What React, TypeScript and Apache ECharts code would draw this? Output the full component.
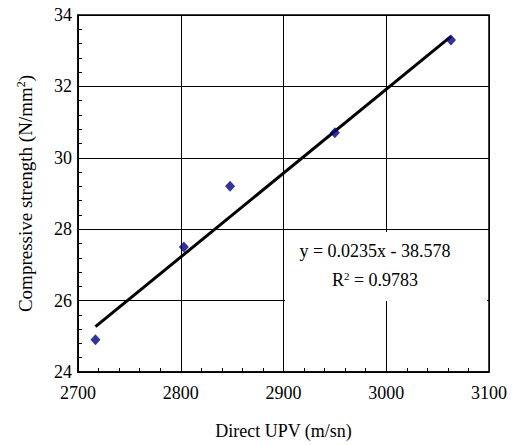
import React, { useEffect, useRef } from "react";
import * as echarts from "echarts";

const upv = [2717, 2803, 2848, 2950, 3063];
const strength = [24.9, 27.5, 29.2, 30.7, 33.3];
const trendX = [2717, 3063];
const trendY = [25.27, 33.4];
const eqText = "y = 0.0235x - 38.578";
const r2Value = "0.9783";

export default function App() {
  const ref = useRef<HTMLDivElement>(null);
  useEffect(() => {
    const chart = echarts.init(ref.current!, null, { renderer: "svg" });
    const font = "'Liberation Serif', 'Times New Roman', serif";
    chart.setOption({
      animation: false,
      textStyle: { fontFamily: font },
      grid: { left: 78, top: 15, right: 30, bottom: 72, show: true, borderColor: "#000", borderWidth: 1.5 },
      xAxis: {
        type: "value", min: 2700, max: 3100, interval: 100,
        name: "Direct UPV (m/sn)", nameLocation: "middle", nameGap: 50,
        nameTextStyle: { fontFamily: font, fontSize: 18, color: "#000" },
        axisLine: { show: true, lineStyle: { color: "#000", width: 1.5 } },
        axisTick: { show: true, inside: true, length: 4, lineStyle: { color: "#000", width: 1 } },
        minorTick: { show: true, splitNumber: 5, length: 4, lineStyle: { color: "#000", width: 1 } },
        axisLabel: { fontFamily: font, fontSize: 18, color: "#000", margin: 12, formatter: (v: number) => String(v) },
        splitLine: { show: true, lineStyle: { color: "#000", width: 1 } },
      },
      yAxis: {
        type: "value", min: 24, max: 34, interval: 2,
        name: "{n|Compressive strength (N/mm}{s|2}{n|)}", nameLocation: "middle", nameGap: 42,
        nameTextStyle: {
          fontFamily: font, color: "#000",
          rich: {
            n: { fontFamily: font, fontSize: 19, color: "#000", lineHeight: 22 },
            s: { fontFamily: font, fontSize: 12, color: "#000", lineHeight: 22, padding: [0, 0, 9, 0] },
          },
        },
        axisLine: { show: true, lineStyle: { color: "#000", width: 1.5 } },
        axisTick: { show: true, inside: true, length: 4, lineStyle: { color: "#000", width: 1 } },
        minorTick: { show: true, splitNumber: 5, length: 4, lineStyle: { color: "#000", width: 1 } },
        axisLabel: { fontFamily: font, fontSize: 18, color: "#000", margin: 6 },
        splitLine: { show: true, lineStyle: { color: "#000", width: 1 } },
      },
      series: [
        {
          type: "line",
          data: trendX.map((x, i) => [x, trendY[i]]),
          showSymbol: false,
          symbol: "none",
          lineStyle: { color: "#000", width: 3 },
          z: 3,
        },
        {
          type: "scatter",
          data: upv.map((x, i) => [x, strength[i]]),
          symbol: "diamond",
          symbolSize: [10, 11],
          itemStyle: { color: "#000080" },
          z: 4,
        },
      ],
      graphic: [
        {
          type: "rect", shape: { x: 285, y: 232, width: 202, height: 69 },
          style: { fill: "#fff" }, z: 1,
        },
        {
          type: "text", x: 375, y: 251, z: 11,
          style: { text: eqText, font: `18px ${font}`, fill: "#000", align: "center", verticalAlign: "middle" },
        },
        {
          type: "text", x: 375, y: 280, z: 11,
          style: {
            text: "{n|R}{s|2}{n| = " + r2Value + "}",
            align: "center", verticalAlign: "middle",
            rich: {
              n: { font: `18px ${font}`, fill: "#000", lineHeight: 22 },
              s: { font: `11px ${font}`, fill: "#000", lineHeight: 22, padding: [0, 0, 9, 0] },
            },
          },
        },
      ],
    });
    return () => chart.dispose();
  }, []);
  return <div ref={ref} style={{ position: "absolute", left: 0, top: 0, width: 519, height: 445 }} />;
}
